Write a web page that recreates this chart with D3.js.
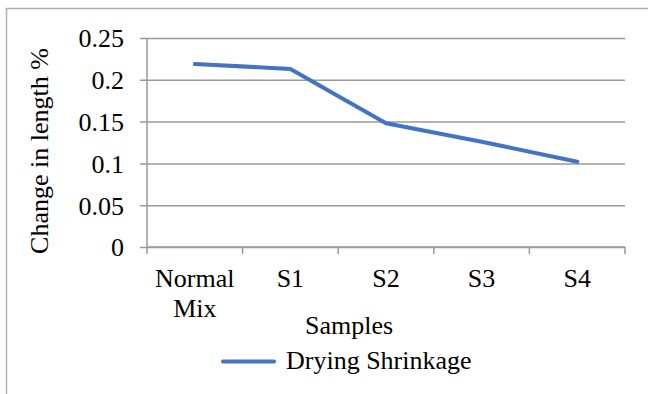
<!DOCTYPE html>
<html>
<head>
<meta charset="utf-8">
<script src="https://cdn.jsdelivr.net/npm/d3@7"></script>
<style>
  html, body { margin: 0; padding: 0; background: #fff; }
  svg { display: block; }
</style>
</head>
<body>
<svg id="chart" width="648" height="394"></svg>
<script>
// Drying shrinkage per sample
const categories = ["Normal Mix", "S1", "S2", "S3", "S4"];
const shrinkage = [0.219, 0.213, 0.148, 0.126, 0.102];
const yTicks = [0, 0.05, 0.1, 0.15, 0.2, 0.25];
const yTickLabels = ["0", "0.05", "0.1", "0.15", "0.2", "0.25"];
const seriesName = "Drying Shrinkage";
const xTitle = "Samples";
const yTitle = "Change in length %";

const serif = "'Liberation Serif', 'Times New Roman', serif";
const svg = d3.select("#chart")
  .attr("font-family", serif)
  .attr("font-size", 26);
const plot = { left: 147, right: 625, top: 38, bottom: 247 };
const lineColor = "#4472C4";
const gridColor = "#9a9a9a";

// chart frame
svg.append("rect")
  .attr("x", 6.5).attr("y", 8.5)
  .attr("width", 700).attr("height", 450)
  .attr("fill", "none").attr("stroke", "#b0b0b0").attr("stroke-width", 1.5);

const x = d3.scaleBand().domain(categories).range([plot.left, plot.right]).padding(0);
const y = d3.scaleLinear().domain([0, 0.25]).range([plot.bottom, plot.top]);

// horizontal gridlines with short outer ticks
const yAxis = d3.axisLeft(y)
  .tickValues(yTicks)
  .tickFormat((d, i) => yTickLabels[i])
  .tickSize(-(plot.right - plot.left))
  .tickPadding(0);
const gy = svg.append("g").attr("transform", `translate(${plot.left},0)`).call(yAxis);
gy.attr("font-family", serif).attr("font-size", 26);
gy.select(".domain").remove();
gy.selectAll(".tick line")
  .attr("x1", -7)
  .attr("stroke", gridColor).attr("stroke-width", 1.5);
gy.selectAll(".tick text")
  .attr("x", -23).attr("dy", "0.34em")
  .attr("fill", "#000");

// vertical axis line
svg.append("line")
  .attr("x1", plot.left).attr("x2", plot.left)
  .attr("y1", plot.top).attr("y2", plot.bottom)
  .attr("stroke", gridColor).attr("stroke-width", 1.5);

// category axis: ticks at band boundaries
const boundaries = categories.map(c => x(c)).concat([plot.right]);
svg.append("g").selectAll("line").data(boundaries).join("line")
  .attr("x1", d => d).attr("x2", d => d)
  .attr("y1", plot.bottom).attr("y2", plot.bottom + 7)
  .attr("stroke", gridColor).attr("stroke-width", 1.5);
svg.append("line")
  .attr("x1", plot.left).attr("x2", plot.right)
  .attr("y1", plot.bottom).attr("y2", plot.bottom)
  .attr("stroke", gridColor).attr("stroke-width", 1.5);

// category labels (wrapped on spaces)
const xl = svg.append("g").selectAll("text").data(categories).join("text")
  .attr("x", d => x(d) + x.bandwidth() / 2)
  .attr("y", 287)
  .attr("text-anchor", "middle");
xl.each(function(d) {
  const t = d3.select(this);
  d.split(" ").forEach((w, i) => {
    t.append("tspan")
      .attr("x", x(d) + x.bandwidth() / 2)
      .attr("dy", i === 0 ? 0 : 30)
      .text(w);
  });
});

// data line
const line = d3.line()
  .x((d, i) => x(categories[i]) + x.bandwidth() / 2)
  .y(d => y(d));
svg.append("path")
  .datum(shrinkage)
  .attr("d", line)
  .attr("fill", "none")
  .attr("stroke", lineColor)
  .attr("stroke-width", 4)
  .attr("stroke-linejoin", "round")
  .attr("stroke-linecap", "round");

// axis titles
svg.append("text")
  .attr("x", 349).attr("y", 334)
  .attr("text-anchor", "middle")
  .text(xTitle);
svg.append("text")
  .attr("transform", "translate(48,151) rotate(-90)")
  .attr("text-anchor", "middle")
  .text(yTitle);

// legend
svg.append("line")
  .attr("x1", 223).attr("x2", 274)
  .attr("y1", 361.5).attr("y2", 361.5)
  .attr("stroke", lineColor).attr("stroke-width", 4)
  .attr("stroke-linecap", "round");
svg.append("text")
  .attr("x", 286).attr("y", 369)
  .text(seriesName);
</script>
</body>
</html>
